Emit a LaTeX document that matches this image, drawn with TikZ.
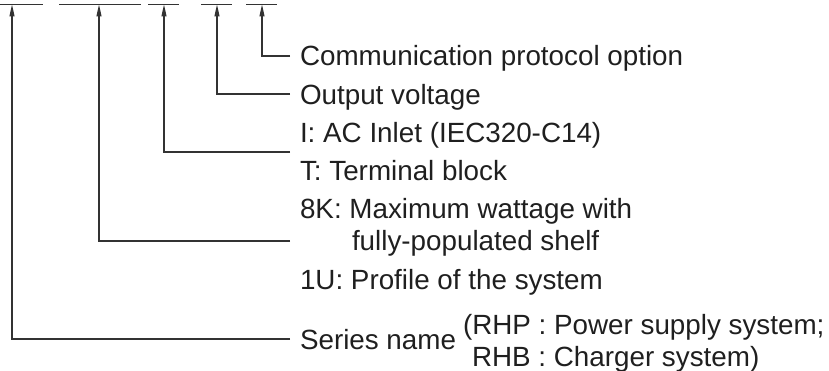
\documentclass[tikz,border=0pt]{standalone}
\usepackage{fontspec}
\setmainfont{Liberation Sans}
\usetikzlibrary{arrows.meta}
\begin{document}
\begin{tikzpicture}[x=1pt,y=-1pt,
  ln/.style={line width=1.1pt, draw=black!80},
  lead/.style={ln, -{Triangle[length=12pt,width=5pt]}},
  lbl/.style={anchor=base west, inner sep=0pt, outer sep=0pt,
    font=\fontsize{27.8}{33}\selectfont, text=black!88}]
\useasboundingbox (0,0) rectangle (829,371);
% code bars
\coordinate (b1l) at (0,4.5);   \coordinate (b1r) at (43,4.5);
\coordinate (b2l) at (59,4.5);  \coordinate (b2r) at (141,4.5);
\coordinate (b3l) at (148,4.5); \coordinate (b3r) at (179,4.5);
\coordinate (b4l) at (201,4.5); \coordinate (b4r) at (232,4.5);
\coordinate (b5l) at (246,4.5); \coordinate (b5r) at (277,4.5);
\foreach \i in {1,...,5} {\draw[ln] (b\i l) -- (b\i r);}
% arrow tips on the bars
\coordinate (a1) at (12,4.5);
\coordinate (a2) at (99,4.5);
\coordinate (a3) at (164,4.5);
\coordinate (a4) at (217,4.5);
\coordinate (a5) at (262,4.5);
% leader ends
\coordinate (e1) at (290,339);
\coordinate (e2) at (290,241);
\coordinate (e3) at (290,152);
\coordinate (e4) at (290,94);
\coordinate (e5) at (290,56);
\foreach \i in {1,...,5} {\draw[lead] (e\i) -| (a\i);}
% labels
\node[lbl] (t5) at (300,66) {Communication protocol option};
\node[lbl] (t4) at (300,105) {Output voltage};
\node[lbl] (t3a) at (300,143) {I: AC Inlet (IEC320-C14)};
\node[lbl] (t3b) at (300,181) {T: Terminal block};
\node[lbl] (t2a) at (300,219) {8K: Maximum wattage with};
\node[lbl] (t2b) at (352,251) {fully-populated shelf};
\node[lbl] (t2c) at (300,289) {1U: Profile of the system};
\node[lbl] (t1) at (300,349) {Series name};
\node[lbl] (t1a) at (463,334) {(RHP : Power supply system;};
\node[lbl] (t1b) at (472,366) {RHB : Charger system)};
\end{tikzpicture}
\end{document}
